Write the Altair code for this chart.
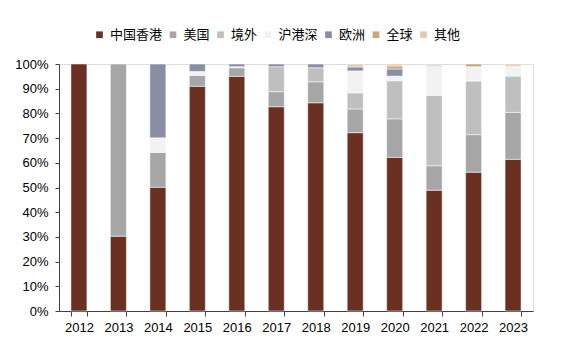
import altair as alt
import pandas as pd

years = ["2012", "2013", "2014", "2015", "2016", "2017", "2018", "2019", "2020", "2021", "2022", "2023"]
series = ["中国香港", "美国", "境外", "沪港深", "欧洲", "全球", "其他"]
colors = ["#6A3123", "#A6A6A6", "#BFBFBF", "#F2F2F2", "#8A8EA4", "#C9A77B", "#E3CCAE"]

hk      = [100.0, 30.3, 50.1, 91.0, 95.0, 82.7, 84.3, 72.2, 62.2, 48.9, 56.2, 61.4]
us      = [0.0, 69.7, 14.1, 4.4, 3.5, 6.1, 8.5, 9.6, 15.6, 9.9, 15.2, 19.0]
jingwai = [0.0, 0.0, 0.0, 0.0, 0.0, 10.1, 5.7, 6.5, 15.4, 28.5, 21.7, 14.7]
hgs     = [0.0, 0.0, 5.9, 1.6, 0.4, 0.0, 0.0, 8.9, 1.9, 11.8, 5.8, 3.8]
europe  = [0.0, 0.0, 29.9, 3.0, 1.1, 1.1, 1.5, 1.6, 2.9, 0.4, 0.0, 0.2]
globe   = [0.0, 0.0, 0.0, 0.0, 0.0, 0.0, 0.0, 0.0, 1.2, 0.0, 1.1, 0.0]
other   = [0.0, 0.0, 0.0, 0.0, 0.0, 0.0, 0.0, 1.2, 0.8, 0.5, 0.0, 0.9]

values = [hk, us, jingwai, hgs, europe, globe, other]
rows = []
for si, (name, vals) in enumerate(zip(series, values)):
    for y, v in zip(years, vals):
        if v > 0:
            rows.append({"year": y, "series": name, "order": si, "value": v / 100.0})
df = pd.DataFrame(rows)

FONT = "Liberation Sans, Arial, Noto Sans CJK SC"

chart = alt.Chart(df).mark_bar(size=16, stroke="white", strokeWidth=0.5).encode(
    x=alt.X("year:N", sort=years, title=None,
            scale=alt.Scale(paddingInner=0.59, paddingOuter=0.3),
            axis=alt.Axis(labelAngle=0, tickBand="extent", tickSize=5, labelPadding=5,
                          domainColor="#404040", tickColor="#404040",
                          labelFontSize=13, labelColor="#000000", labelFont=FONT)),
    y=alt.Y("value:Q", stack="zero", title=None,
            scale=alt.Scale(domain=[0, 1], nice=False),
            axis=alt.Axis(format=".0%", values=[i / 10 for i in range(11)], grid=False,
                          tickSize=4, labelPadding=7, domainColor="#404040", tickColor="#404040",
                          labelFontSize=13, labelColor="#000000", labelFont=FONT)),
    color=alt.Color("series:N", scale=alt.Scale(domain=series, range=colors),
                    legend=alt.Legend(title=None, orient="none", direction="horizontal",
                                      legendX=34, legendY=-36, symbolType="square",
                                      symbolSize=45, symbolStrokeWidth=0, labelFontSize=13,
                                      labelFont="Noto Sans CJK SC", labelColor="#000000",
                                      columnPadding=3.5, labelOffset=4)),
    order=alt.Order("order:Q", sort="ascending"),
).properties(
    width=474, height=247,
    autosize=alt.AutoSizeParams(type="none"),
    padding={"left": 59, "top": 64, "right": 29, "bottom": 45},
).configure_view(stroke=None).configure(background="white")

chart.save("out.html", embed_options={"renderer": "svg", "actions": False})
